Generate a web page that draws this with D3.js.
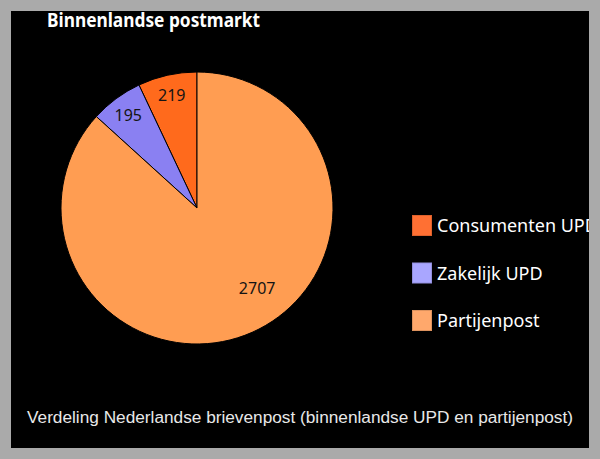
<!DOCTYPE html>
<html>
<head>
<meta charset="utf-8">
<script src="https://cdn.jsdelivr.net/npm/d3@7"></script>
<style>
  html, body { margin: 0; padding: 0; background: #aaaaaa; }
  svg { display: block; }
</style>
</head>
<body>
<svg id="chart" width="600" height="459"></svg>
<script>
const categories = ["Consumenten UPD", "Zakelijk UPD", "Partijenpost"];
const values = [219, 195, 2707];
const sliceColors = ["#ff6a1c", "#8a80f2", "#ff9d52"];
const legendColors = ["#ff7033", "#a9a6ff", "#ffa86c"];
const title = "Binnenlandse postmarkt";
const caption = "Verdeling Nederlandse brievenpost (binnenlandse UPD en partijenpost)";

const data = categories.map((c, i) => ({ name: c, value: values[i], color: sliceColors[i], legend: legendColors[i] }));

const svg = d3.select("#chart");
const W = 600, H = 459;

svg.append("rect").attr("width", W).attr("height", H).attr("fill", "#aaaaaa");

const defs = svg.append("defs");
defs.append("clipPath").attr("id", "panelClip")
  .append("rect").attr("x", 11).attr("y", 11).attr("width", 578).attr("height", 437);

const panel = svg.append("g").attr("clip-path", "url(#panelClip)");
panel.append("rect").attr("x", 11).attr("y", 11).attr("width", 578).attr("height", 437).attr("fill", "#000");

// Title
panel.append("text")
  .attr("x", 47).attr("y", 27)
  .attr("fill", "#fff")
  .attr("font-family", "'Noto Sans', 'Open Sans', sans-serif")
  .attr("font-weight", "bold")
  .attr("font-size", 19)
  .attr("textLength", 213)
  .attr("lengthAdjust", "spacingAndGlyphs")
  .text(title);

// Pie
const cx = 197, cy = 208, r = 136;
const pie = d3.pie().sort(null).value(d => d.value)
  .startAngle(0).endAngle(-2 * Math.PI);
const arcs = pie(data);
const arc = d3.arc().innerRadius(0).outerRadius(r);

const g = panel.append("g").attr("transform", `translate(${cx},${cy})`);
g.selectAll("path.slice").data(arcs).join("path")
  .attr("class", "slice")
  .attr("d", arc)
  .attr("fill", d => d.data.color)
  .attr("stroke", "#000")
  .attr("stroke-width", 1)
  .attr("stroke-linejoin", "round");

// Labels: small slices near rim, big slice further in toward lower right
function labelPos(d, i) {
  let mid = (d.startAngle + d.endAngle) / 2;
  let lr = r * 0.85;
  if (i === 2) { mid = d.endAngle + (d.startAngle - d.endAngle) * 0.458; lr = r * 0.735; }
  return [lr * Math.sin(mid), -lr * Math.cos(mid)];
}
g.selectAll("text.lbl").data(arcs).join("text")
  .attr("class", "lbl")
  .attr("x", (d, i) => labelPos(d, i)[0])
  .attr("y", (d, i) => labelPos(d, i)[1])
  .attr("dy", "0.36em")
  .attr("text-anchor", "middle")
  .attr("fill", "#141414")
  .attr("font-family", "'Noto Sans', 'Open Sans', sans-serif")
  .attr("font-size", 16)
  .text(d => d.value);

// Legend
const leg = panel.append("g").attr("transform", "translate(412,215)");
const items = leg.selectAll("g").data(data).join("g")
  .attr("transform", (d, i) => `translate(0,${i * 47.5})`);
items.append("rect")
  .attr("x", 0.5).attr("y", 0.5).attr("width", 19).attr("height", 20)
  .attr("fill", d => d.legend)
  .attr("stroke", d => d3.color(d.legend).darker(0.4))
  .attr("stroke-width", 1);
items.append("text")
  .attr("x", 25).attr("y", 11)
  .attr("dy", "0.36em")
  .attr("fill", "#fff")
  .attr("font-family", "'Noto Sans', 'Open Sans', sans-serif")
  .attr("font-size", 18)
  .text(d => d.name);

// Caption
panel.append("text")
  .attr("x", 300).attr("y", 423)
  .attr("text-anchor", "middle")
  .attr("fill", "#e8e8e8")
  .attr("font-family", "'Liberation Sans', Arial, sans-serif")
  .attr("font-size", 16)
  .attr("textLength", 546)
  .attr("lengthAdjust", "spacingAndGlyphs")
  .text(caption);
</script>
</body>
</html>
